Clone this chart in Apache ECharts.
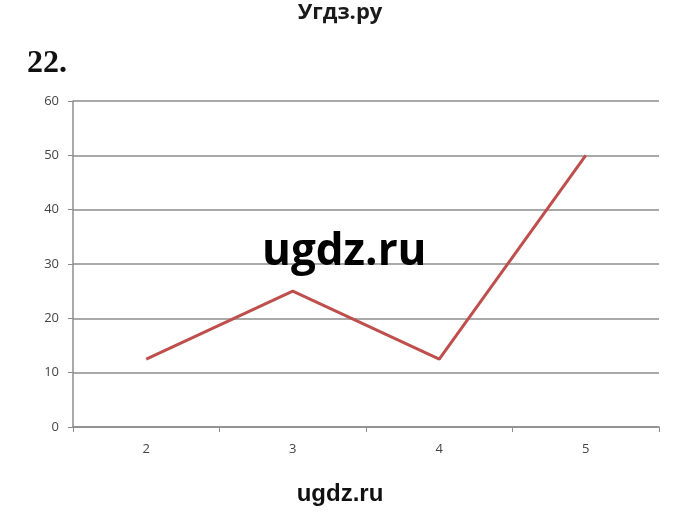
<!DOCTYPE html>
<html>
<head>
<meta charset="utf-8">
<script src="https://cdn.jsdelivr.net/npm/echarts@6/dist/echarts.min.js"></script>
<style>
  html, body { margin: 0; padding: 0; background: #fff; }
  #chart { width: 680px; height: 513px; }
</style>
</head>
<body>
<div id="chart"></div>
<script>
var categories = ["2", "3", "4", "5"];
var values = [12.5, 25, 12.5, 50];

var chartDom = document.getElementById("chart");
var myChart = echarts.init(chartDom);

var option = {
  backgroundColor: "#fff",
  animation: false,
  grid: { left: 73, right: 21, top: 101, bottom: 86 },
  graphic: [
    {
      type: "text", left: "center", top: 2, z: 100,
      style: { text: "Угдз.ру", font: "bold 22px 'Open Sans', sans-serif", fill: "#1a1a1a" }
    },
    {
      type: "text", left: 27, top: 48, z: 100,
      style: { text: "22.", font: "bold 32px 'Liberation Serif', serif", fill: "#111" }
    },
    {
      type: "text", left: 262, top: 230, z: 100,
      style: { text: "ugdz.ru", font: "bold 44px 'Open Sans', sans-serif", fill: "#000" }
    },
    {
      type: "text", left: "center", top: 482, z: 100,
      style: { text: "ugdz.ru", font: "bold 24px 'Liberation Sans', sans-serif", fill: "#111" }
    }
  ],
  xAxis: {
    type: "category",
    data: categories,
    boundaryGap: true,
    axisLine: { lineStyle: { color: "#8c8c8c", width: 1.5 } },
    axisTick: { show: true, length: 5, lineStyle: { color: "#8c8c8c" } },
    axisLabel: { color: "#444", fontSize: 13, margin: 16, fontFamily: "'Open Sans', sans-serif" }
  },
  yAxis: {
    type: "value",
    min: 0,
    max: 60,
    interval: 10,
    axisLine: { show: true, lineStyle: { color: "#8c8c8c", width: 1.5 } },
    axisTick: { show: true, length: 5, lineStyle: { color: "#8c8c8c" } },
    axisLabel: { color: "#444", fontSize: 13, margin: 14, fontFamily: "'Open Sans', sans-serif" },
    splitLine: { lineStyle: { color: "#8c8c8c", width: 1.5 } }
  },
  series: [
    {
      type: "line",
      data: values,
      symbol: "none",
      lineStyle: { color: "#bf4f4c", width: 3 }
    }
  ]
};

myChart.setOption(option);
window.addEventListener("resize", () => {
  myChart.resize();
});
</script>
</body>
</html>
